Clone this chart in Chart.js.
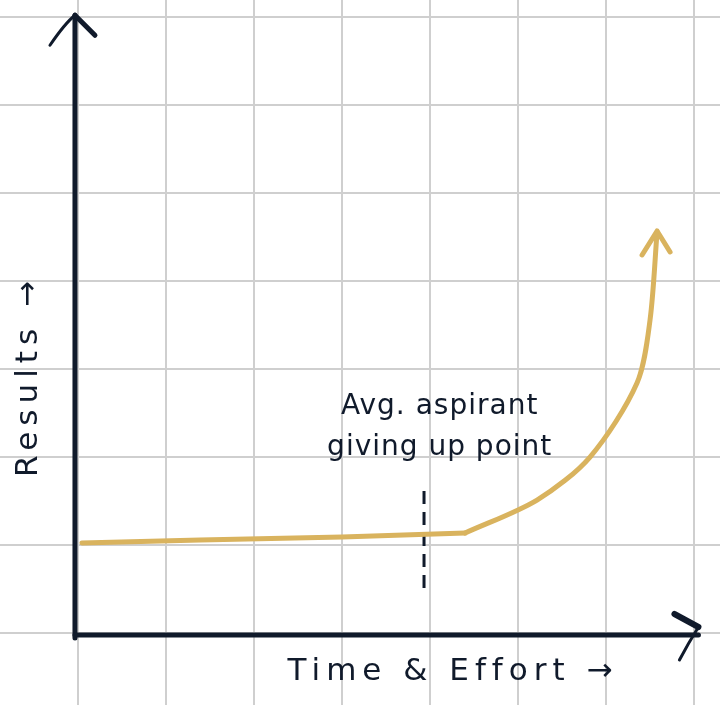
<!DOCTYPE html>
<html>
<head>
<meta charset="utf-8">
<script src="https://cdn.jsdelivr.net/npm/chart.js@4/dist/chart.umd.min.js"></script>
<style>
  html, body { margin: 0; padding: 0; background: #ffffff; }
  #wrap { width: 720px; height: 705px; }
</style>
</head>
<body>
<div id="wrap"><canvas id="c" width="720" height="705"></canvas></div>
<script>
// ---- data (chart units: one grid square = 1) ----
const curveX = [0.045, 1.386, 3.0, 4.398, 5.216, 5.818, 6.352, 6.5, 6.58];
const curveY = [1.023, 1.057, 1.091, 1.136, 1.511, 2.0, 2.841, 3.557, 4.557];
const kneeIndex = 3; // flat straight part up to here, then the curve bends upward
const givingUpX = [3.932, 3.932];
const givingUpY = [0.511, 1.659];
const annotationLines = ["Avg. aspirant", "giving up point"];
const annotationX = 4.11;
const annotationY = [2.57, 2.11];
const xTitle = "Time & Effort \u2192";
const yTitle = "Results \u2192";
const xRange = [-0.886, 7.295];
const yRange = [-0.818, 7.193];
const yAxisTop = 7.02;
const xAxisRight = 7.05;

const NAVY = "#101a2b";
const GOLD = "#d9b35e";
const FONT = "'DejaVu Sans', sans-serif";

const curve = curveX.map((x, i) => ({ x, y: curveY[i] }));
const flatPart = curve.slice(0, kneeIndex + 1);
const risePart = curve.slice(kneeIndex);
const dashed = givingUpX.map((x, i) => ({ x, y: givingUpY[i] }));

const decor = {
  id: "decor",
  beforeDraw(chart) {
    const ctx = chart.ctx;
    ctx.save();
    ctx.fillStyle = "#ffffff";
    ctx.fillRect(0, 0, chart.width, chart.height);
    ctx.restore();
  },
  afterDatasetsDraw(chart) {
    const ctx = chart.ctx;
    const xs = chart.scales.x, ys = chart.scales.y;
    const x0 = xs.getPixelForValue(0) - 3;
    const y0 = ys.getPixelForValue(0) + 2;
    ctx.save();
    ctx.strokeStyle = NAVY;
    ctx.lineCap = "round";
    ctx.lineJoin = "round";
    // y axis
    const yTop = ys.getPixelForValue(yAxisTop);
    ctx.lineWidth = 5;
    ctx.beginPath();
    ctx.moveTo(x0, y0 + 3);
    ctx.lineTo(x0, yTop);
    ctx.stroke();
    ctx.lineWidth = 3;
    ctx.beginPath();
    ctx.moveTo(x0 - 25, yTop + 30);
    ctx.quadraticCurveTo(x0 - 10, yTop + 8, x0, yTop);
    ctx.stroke();
    ctx.lineWidth = 5;
    ctx.beginPath();
    ctx.moveTo(x0, yTop);
    ctx.lineTo(x0 + 20, yTop + 20);
    ctx.stroke();
    // x axis
    const xRight = xs.getPixelForValue(xAxisRight);
    ctx.lineWidth = 5;
    ctx.beginPath();
    ctx.moveTo(x0, y0);
    ctx.lineTo(xRight, y0);
    ctx.stroke();
    ctx.lineWidth = 6;
    ctx.beginPath();
    ctx.moveTo(xRight - 24, y0 - 21);
    ctx.lineTo(xRight, y0 - 8);
    ctx.stroke();
    ctx.lineWidth = 3;
    ctx.beginPath();
    ctx.moveTo(xRight, y0 - 8);
    ctx.quadraticCurveTo(xRight - 10, y0 + 8, xRight - 19, y0 + 25);
    ctx.stroke();

    // gold arrowhead at end of curve
    const n = curveX.length - 1;
    const tx = xs.getPixelForValue(curveX[n]);
    const ty = ys.getPixelForValue(curveY[n]);
    ctx.strokeStyle = GOLD;
    ctx.lineWidth = 5;
    ctx.beginPath();
    ctx.moveTo(tx - 15, ty + 23);
    ctx.lineTo(tx, ty - 1);
    ctx.lineTo(tx + 13, ty + 20);
    ctx.stroke();

    // texts
    ctx.fillStyle = NAVY;
    ctx.textAlign = "center";
    ctx.textBaseline = "middle";
    ctx.font = "28px " + FONT;
    try { ctx.letterSpacing = "1px"; } catch (e) {}
    const ax = xs.getPixelForValue(annotationX);
    annotationLines.forEach((t, i) => {
      ctx.fillText(t, ax, ys.getPixelForValue(annotationY[i]));
    });
    ctx.font = "31px " + FONT;
    try { ctx.letterSpacing = "6px"; } catch (e) {}
    ctx.fillText(xTitle, 453, 672);
    ctx.save();
    ctx.translate(29, 376);
    ctx.rotate(-Math.PI / 2);
    ctx.fillText(yTitle, 0, 0);
    ctx.restore();
    ctx.restore();
  }
};

const gridColor = (c) => (c.tick && Math.abs(c.tick.value - Math.round(c.tick.value)) < 1e-6) ? "#cfcfcf" : "rgba(0,0,0,0)";

new Chart(document.getElementById("c"), {
  type: "scatter",
  data: {
    datasets: [
      {
        data: flatPart, showLine: true, borderColor: GOLD, borderWidth: 5,
        pointRadius: 0, tension: 0,
        borderCapStyle: "round", borderJoinStyle: "round"
      },
      {
        data: risePart, showLine: true, borderColor: GOLD, borderWidth: 5,
        pointRadius: 0, tension: 0.3,
        borderCapStyle: "round", borderJoinStyle: "round"
      },
      {
        data: dashed, showLine: true, borderColor: NAVY, borderWidth: 3,
        borderDash: [13, 8], pointRadius: 0
      }
    ]
  },
  options: {
    responsive: false,
    animation: false,
    devicePixelRatio: 1,
    layout: { padding: 0 },
    plugins: { legend: { display: false }, tooltip: { enabled: false } },
    scales: {
      x: {
        type: "linear", min: xRange[0], max: xRange[1],
        ticks: { display: false, stepSize: 1, includeBounds: false },
        grid: { drawTicks: false, tickLength: 0, color: gridColor, lineWidth: 2 },
        border: { display: false }
      },
      y: {
        type: "linear", min: yRange[0], max: yRange[1],
        ticks: { display: false, stepSize: 1, includeBounds: false },
        grid: { drawTicks: false, tickLength: 0, color: gridColor, lineWidth: 2 },
        border: { display: false }
      }
    }
  },
  plugins: [decor]
});
</script>
</body>
</html>
